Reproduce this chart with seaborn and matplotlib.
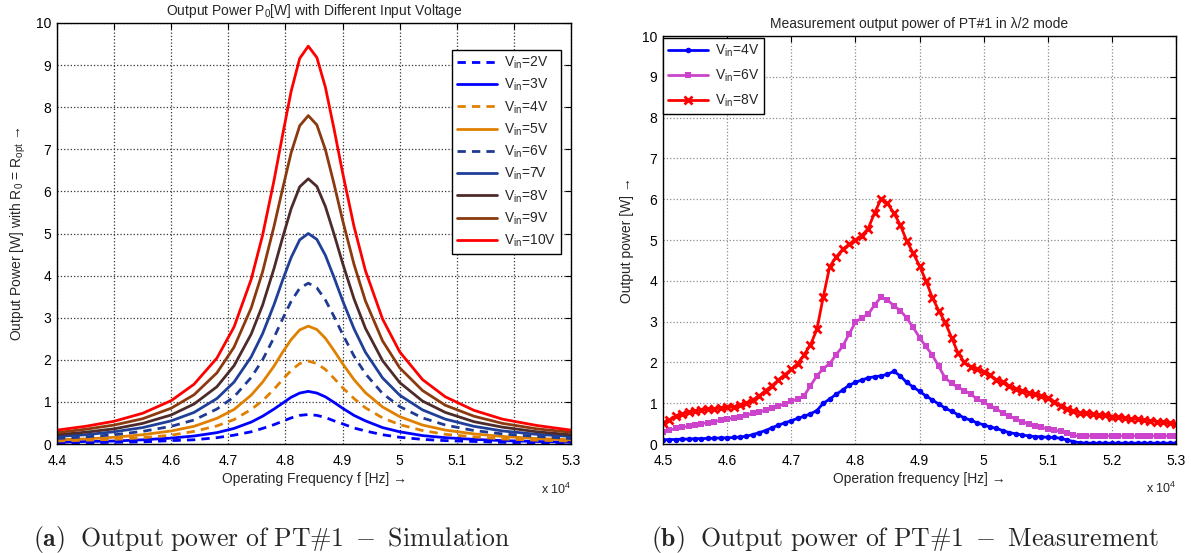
import numpy as np
import pandas as pd
import seaborn as sns
import matplotlib.pyplot as plt
import matplotlib.ticker as ticker

# simulation: output power vs frequency for each input voltage
FREQ_SIM = [44000, 44500, 45000, 45500, 46000, 46400, 46800, 47100, 47400, 47600,
            47800, 47950, 48100, 48250, 48400, 48550, 48700, 48850, 49000, 49200,
            49400, 49700, 50000, 50400, 50800, 51300, 51800, 52400, 53000]
P_2V = [0.02, 0.03, 0.04, 0.05, 0.08, 0.10, 0.15, 0.21, 0.29, 0.37, 0.46, 0.54, 0.62, 0.68, 0.70,
        0.68, 0.63, 0.55, 0.48, 0.38, 0.31, 0.22, 0.16, 0.11, 0.08, 0.06, 0.04, 0.03, 0.02]
P_3V = [0.04, 0.06, 0.07, 0.10, 0.14, 0.19, 0.27, 0.37, 0.52, 0.66, 0.83, 0.97, 1.11, 1.21, 1.25,
        1.21, 1.12, 0.99, 0.85, 0.68, 0.55, 0.39, 0.29, 0.20, 0.15, 0.11, 0.08, 0.06, 0.04]
P_4V = [0.07, 0.09, 0.11, 0.15, 0.21, 0.30, 0.43, 0.58, 0.82, 1.03, 1.30, 1.53, 1.75, 1.91, 1.97,
        1.91, 1.77, 1.56, 1.34, 1.08, 0.86, 0.62, 0.46, 0.32, 0.23, 0.17, 0.12, 0.09, 0.07]
P_5V = [0.10, 0.12, 0.16, 0.22, 0.31, 0.42, 0.61, 0.82, 1.16, 1.47, 1.85, 2.18, 2.48, 2.71, 2.80,
        2.72, 2.51, 2.22, 1.91, 1.53, 1.22, 0.88, 0.65, 0.45, 0.33, 0.24, 0.18, 0.13, 0.10]
P_6V = [0.13, 0.17, 0.22, 0.30, 0.42, 0.57, 0.83, 1.12, 1.58, 2.00, 2.53, 2.97, 3.39, 3.70, 3.82,
        3.71, 3.42, 3.03, 2.61, 2.09, 1.67, 1.20, 0.89, 0.62, 0.45, 0.32, 0.24, 0.18, 0.13]
P_7V = [0.18, 0.22, 0.29, 0.39, 0.55, 0.75, 1.08, 1.47, 2.07, 2.62, 3.31, 3.89, 4.43, 4.85, 5.00,
        4.86, 4.48, 3.96, 3.41, 2.74, 2.18, 1.57, 1.16, 0.81, 0.59, 0.42, 0.31, 0.23, 0.18]
P_8V = [0.22, 0.28, 0.36, 0.49, 0.69, 0.95, 1.36, 1.86, 2.61, 3.30, 4.17, 4.90, 5.59, 6.11, 6.30,
        6.12, 5.64, 4.99, 4.30, 3.45, 2.75, 1.98, 1.46, 1.02, 0.75, 0.53, 0.40, 0.29, 0.22]
P_9V = [0.27, 0.35, 0.45, 0.60, 0.85, 1.17, 1.69, 2.30, 3.23, 4.09, 5.17, 6.06, 6.92, 7.56, 7.80,
        7.58, 6.99, 6.18, 5.32, 4.27, 3.40, 2.45, 1.81, 1.27, 0.92, 0.66, 0.49, 0.36, 0.28]
P_10V = [0.33, 0.42, 0.54, 0.73, 1.03, 1.42, 2.04, 2.78, 3.91, 4.96, 6.26, 7.34, 8.38, 9.16, 9.45,
         9.18, 8.47, 7.49, 6.45, 5.17, 4.12, 2.97, 2.19, 1.53, 1.12, 0.80, 0.59, 0.44, 0.33]

VIN_SIM = ['2V', '3V', '4V', '5V', '6V', '7V', '8V', '9V', '10V']
P_SIM = [P_2V, P_3V, P_4V, P_5V, P_6V, P_7V, P_8V, P_9V, P_10V]
COL_SIM = ['#0000ff', '#0000ff', '#e08000', '#e08000', '#1f3a93',
           '#1f3f99', '#4d2b2b', '#8b3a10', '#ff0000']
DASHED = [True, False, True, False, True, False, False, False, False]

# measurement, one point every 100 Hz from 45 kHz to 53 kHz
FREQ_MEAS = list(range(45000, 53001, 100))
M_4V = [0.10, 0.11, 0.11, 0.12, 0.12, 0.13, 0.13, 0.14, 0.14, 0.15,
        0.15, 0.16, 0.17, 0.19, 0.23, 0.28, 0.33, 0.40, 0.46, 0.52,
        0.57, 0.63, 0.68, 0.74, 0.82, 1.00, 1.10, 1.22, 1.32, 1.44,
        1.51, 1.57, 1.62, 1.65, 1.67, 1.71, 1.78, 1.67, 1.51, 1.40,
        1.29, 1.18, 1.08, 0.98, 0.88, 0.80, 0.72, 0.64, 0.58, 0.52,
        0.47, 0.42, 0.38, 0.33, 0.28, 0.25, 0.22, 0.20, 0.18, 0.18,
        0.16, 0.16, 0.14, 0.10, 0.06, 0.03, 0.02, 0.02, 0.02, 0.02,
        0.02, 0.02, 0.02, 0.02, 0.02, 0.02, 0.02, 0.02, 0.02, 0.02, 0.02]
M_6V = [0.30, 0.34, 0.38, 0.41, 0.44, 0.47, 0.50, 0.52, 0.55, 0.58,
        0.61, 0.64, 0.67, 0.71, 0.75, 0.79, 0.83, 0.88, 0.93, 0.99,
        1.05, 1.10, 1.18, 1.43, 1.67, 1.85, 1.97, 2.19, 2.39, 2.69,
        2.98, 3.10, 3.18, 3.41, 3.60, 3.53, 3.39, 3.27, 3.09, 2.86,
        2.61, 2.39, 2.18, 1.90, 1.62, 1.49, 1.39, 1.31, 1.22, 1.10,
        1.02, 0.94, 0.86, 0.76, 0.69, 0.61, 0.55, 0.49, 0.45, 0.41,
        0.37, 0.34, 0.31, 0.26, 0.21, 0.20, 0.20, 0.20, 0.20, 0.20,
        0.20, 0.20, 0.20, 0.20, 0.20, 0.20, 0.20, 0.20, 0.20, 0.20, 0.20]
M_8V = [0.51, 0.59, 0.68, 0.73, 0.78, 0.82, 0.83, 0.85, 0.86, 0.88,
        0.90, 0.91, 0.95, 1.00, 1.08, 1.18, 1.31, 1.43, 1.57, 1.70,
        1.83, 1.97, 2.19, 2.43, 2.81, 3.61, 4.35, 4.58, 4.77, 4.89,
        4.99, 5.11, 5.28, 5.67, 6.00, 5.90, 5.66, 5.37, 4.98, 4.68,
        4.37, 4.00, 3.59, 3.27, 2.98, 2.61, 2.23, 2.00, 1.89, 1.83,
        1.76, 1.68, 1.58, 1.51, 1.41, 1.35, 1.31, 1.26, 1.22, 1.17,
        1.13, 1.04, 0.94, 0.86, 0.80, 0.77, 0.75, 0.74, 0.72, 0.70,
        0.67, 0.66, 0.64, 0.62, 0.61, 0.59, 0.57, 0.55, 0.53, 0.51, 0.49]

sns.set_theme(style="white")
plt.rcParams['font.family'] = ['Liberation Sans', 'DejaVu Sans']
plt.rcParams['mathtext.default'] = 'regular'
plt.rcParams['axes.edgecolor'] = 'black'
plt.rcParams['axes.linewidth'] = 1.0

fig = plt.figure(figsize=(11.91, 5.53), dpi=100)
ax1 = fig.add_axes([57 / 1191, 109 / 553, 514 / 1191, 421 / 553])
ax2 = fig.add_axes([663 / 1191, 109 / 553, 513 / 1191, 408 / 553])

fmt = ticker.FuncFormatter(lambda v, p: f'{v / 1e4:g}')


def style_axes(ax, grid_col):
    ax.tick_params(direction='in', top=True, right=True, length=4, width=0.8,
                   labelsize=10, colors='black', pad=4)
    ax.tick_params(axis='x', pad=7)
    ax.grid(True, linestyle=':', color=grid_col, linewidth=0.9)
    ax.xaxis.set_major_formatter(fmt)
    ax.set_ylim(0, 10)
    ax.set_yticks(range(0, 11))
    for s in ax.spines.values():
        s.set_color('black')
        s.set_linewidth(1.0)


# ---- left: simulation
for vin, vals, col, dash in zip(VIN_SIM, P_SIM, COL_SIM, DASHED):
    kw = {'dashes': (3, 2.2)} if dash else {}
    sns.lineplot(x=FREQ_SIM, y=vals, ax=ax1, color=col, linewidth=2.0,
                 label=f'V$_{{in}}$={vin}', **kw)

ax1.set_xlim(44000, 53000)
ax1.set_xticks(range(44000, 53001, 1000))
style_axes(ax1, '0.2')
ax1.set_title('Output Power P$_0$[W] with Different Input Voltage', fontsize=10, pad=6)
ax1.set_xlabel('Operating Frequency f [Hz] →', fontsize=10, labelpad=3)
ax1.set_ylabel('Output Power [W] with R$_0$ = R$_{opt}$ →', fontsize=10, labelpad=6)
ax1.text(1.0, -0.09, 'x 10$^4$', transform=ax1.transAxes, ha='right', va='top', fontsize=9)
leg1 = ax1.legend(loc='upper right', bbox_to_anchor=(0.981, 0.936), fontsize=10,
                  frameon=True, fancybox=False, edgecolor='black', framealpha=1,
                  handlelength=2.9, handletextpad=0.5, labelspacing=0.42,
                  borderpad=0.35, borderaxespad=0.0)
leg1.get_frame().set_linewidth(1.0)

# ---- right: measurement
sns.lineplot(x=FREQ_MEAS, y=M_4V, ax=ax2, color='#0000ff', linewidth=2.0, marker='o',
             markersize=4, markeredgewidth=0, label='V$_{in}$=4V')
sns.lineplot(x=FREQ_MEAS, y=M_6V, ax=ax2, color='#cc44cc', linewidth=2.0, marker='s',
             markersize=5, markeredgewidth=0, label='V$_{in}$=6V')
sns.lineplot(x=FREQ_MEAS, y=M_8V, ax=ax2, color='#ff0000', linewidth=2.0, marker='x',
             markersize=6, markeredgewidth=2.0, markeredgecolor='#ff0000', label='V$_{in}$=8V')

ax2.set_xlim(45000, 53000)
ax2.set_xticks(range(45000, 53001, 1000))
style_axes(ax2, '0.55')
ax2.set_title('Measurement output power of PT#1 in λ/2 mode', fontsize=10, pad=6)
ax2.set_xlabel('Operation frequency [Hz] →', fontsize=10, labelpad=3)
ax2.set_ylabel('Output power [W] →', fontsize=10, labelpad=6)
ax2.text(1.0, -0.09, 'x 10$^4$', transform=ax2.transAxes, ha='right', va='top', fontsize=9)
leg2 = ax2.legend(loc='upper left', bbox_to_anchor=(0.0, 0.995), fontsize=10,
                  frameon=True, fancybox=False, edgecolor='black', framealpha=1,
                  handlelength=2.9, handletextpad=0.5, labelspacing=0.6,
                  borderpad=0.35, borderaxespad=0.0)
leg2.get_frame().set_linewidth(1.0)

# ---- sub captions
fig.text(0.228, 0.024, r'$\mathbf{(a)}\ \ \mathrm{Output\ power\ of\ PT\#1\ -\ Simulation}$',
         ha='center', va='center', fontsize=18.5, math_fontfamily='cm')
fig.text(0.76, 0.024, r'$\mathbf{(b)}\ \ \mathrm{Output\ power\ of\ PT\#1\ -\ Measurement}$',
         ha='center', va='center', fontsize=18.5, math_fontfamily='cm')

fig.savefig('out.png', dpi=100, facecolor='white')
